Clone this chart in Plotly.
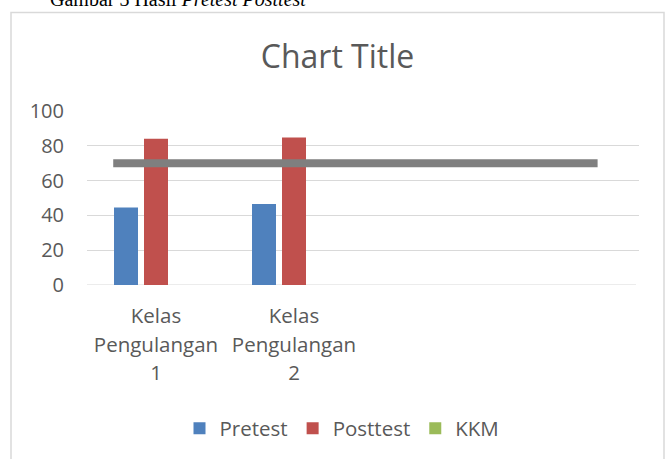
import plotly.graph_objects as go

# ---- data ----
categories = ["Kelas Pengulangan 1", "Kelas Pengulangan 2", "", ""]
pretest = [44.6, 46.5]
posttest = [84.1, 84.7]
kkm_bars = [0, 0]
kkm_value = 70
kkm_span = [-0.31, 3.2]
y_ticks = [0, 20, 40, 60, 80, 100]

W, H = 666, 459
L, R, T, B = 87, 27, 111, 173
PW, PH = W - L - R, H - T - B


def px(x):
    return (x - L) / PW


def py(y):
    return (H - B - y) / PH


def tick_label(name):
    if not name:
        return ""
    words = name.split(" ")
    return "<br>".join('<span style="font-size:20.5px">%s</span>' % w for w in words)


xs = list(range(len(pretest)))
font = "Open Sans, Lato, sans-serif"
grey = "#595959"

fig = go.Figure()
fig.add_trace(go.Bar(name="Pretest", x=xs, y=pretest, marker=dict(color="#4f81bd", line=dict(width=0))))
fig.add_trace(go.Bar(name="Posttest", x=xs, y=posttest, marker=dict(color="#c0504d", line=dict(width=0))))
fig.add_trace(go.Bar(name="KKM", x=xs, y=kkm_bars, marker=dict(color="#9bbb59", line=dict(width=0))))
fig.add_trace(go.Scatter(x=kkm_span, y=[kkm_value, kkm_value], mode="lines",
                         line=dict(color="#7f7f7f", width=8), showlegend=False, hoverinfo="skip"))

fig.update_layout(
    width=W, height=H,
    margin=dict(l=L, r=R, t=T, b=B, pad=0),
    paper_bgcolor="white", plot_bgcolor="white",
    barmode="group", bargap=0.348, bargroupgap=0.2,
    font=dict(family=font, color=grey, size=20),
    showlegend=True,
    legend=dict(orientation="h", x=px(342), xanchor="center", y=py(428.5), yanchor="middle",
                font=dict(size=20.5, color=grey), itemwidth=30, traceorder="normal"),
    title=dict(text="Chart Title", x=px(337.5), xref="paper", xanchor="center",
               y=1 - 57 / H, yref="container", yanchor="middle",
               font=dict(size=32, color=grey, family=font)),
    xaxis=dict(range=[-0.5, len(categories) - 0.5], tickmode="array",
               tickvals=list(range(len(categories))),
               ticktext=[tick_label(c) for c in categories],
               tickfont=dict(size=22, color=grey), showgrid=False, zeroline=False,
               showline=False, ticks="", ticklabelstandoff=15, fixedrange=True),
    yaxis=dict(range=[0, 100], tickvals=y_ticks, showgrid=True, gridcolor="#d9d9d9",
               gridwidth=1, zeroline=False, showline=False, ticks="",
               tickfont=dict(size=20, color=grey), ticklabelstandoff=22, fixedrange=True),
)

# chart frame
fig.add_shape(type="rect", xref="paper", yref="paper",
              x0=px(11), x1=px(664), y0=py(470), y1=py(12),
              line=dict(color="#d9d9d9", width=1.5), fillcolor="rgba(0,0,0,0)", layer="below")
# baseline gridline at 0
fig.add_shape(type="line", xref="paper", yref="y", x0=0, x1=(636 - L) / PW, y0=0, y1=0,
              line=dict(color="#d9d9d9", width=1), layer="below")

# caption above the chart (cut off at the top edge, as in the source)
fig.add_annotation(text="Gambar 3 Hasil <i>Pretest Posttest</i>", xref="paper", yref="paper",
                   x=px(48), xanchor="left", y=py(-2), yanchor="middle", showarrow=False,
                   font=dict(family="Liberation Serif, Times New Roman, serif", size=20, color="black"))

fig.write_html("out.html", config={"displayModeBar": False},
               post_script="document.body.style.margin='0';document.body.style.overflow='hidden';")
